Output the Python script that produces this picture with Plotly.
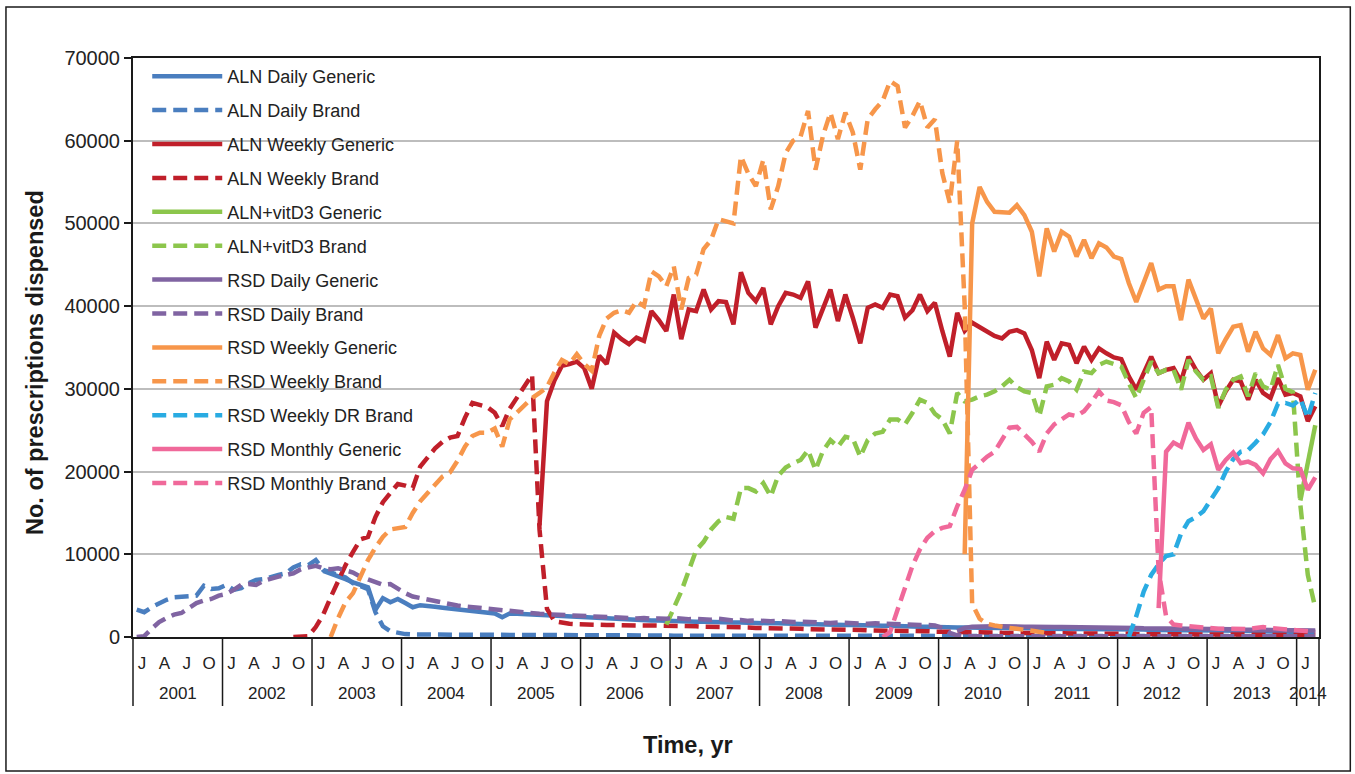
import plotly.graph_objects as go

# ---------------- data (monthly, Jan 2001 .. Mar 2014) ----------------
n_months = 159
years = ["2001", "2002", "2003", "2004", "2005", "2006", "2007",
         "2008", "2009", "2010", "2011", "2012", "2013", "2014"]
quarter_labels = ["J", "A", "J", "O"]
x_title = "Time, yr"
y_title = "No. of prescriptions dispensed"

aln_daily_generic_start = 25
aln_daily_generic = [
    8000, 7700, 7400, 7000, 6600, 6300, 6000, 3300, 4700, 4200, 4600, 4100,
    3600, 3850, 3700, 3650, 3550, 3450, 3400, 3300, 3200, 3100, 3000, 2850,
    2400, 2850, 2800, 2750, 2700, 2650, 2600, 2550, 2500, 2450, 2400, 2350,
    2300, 2250, 2200, 2200, 2150, 2100, 2100, 2050, 2000, 2000, 1950, 1950,
    1900, 1900, 1850, 1850, 1800, 1800, 1800, 1750, 1750, 1700, 1700, 1700,
    1650, 1650, 1600, 1600, 1600, 1550, 1550, 1500, 1500, 1500, 1450, 1450,
    1400, 1400, 1400, 1350, 1350, 1300, 1300, 1300, 1250, 1250, 1200, 1200,
    1200, 1150, 1150, 1150, 1100, 1100, 1100, 1100, 1050, 1050, 1050, 1050,
    1000, 1000, 1000, 1000, 950, 950, 950, 950, 950, 900, 900, 900,
    900, 900, 900, 850, 850, 850, 850, 850, 800, 800, 800, 800,
    800, 750, 750, 750, 750, 700, 700, 700, 700, 700, 650, 650,
    600, 600]

aln_daily_brand_start = 0
aln_daily_brand = [
    3300, 3000, 3600, 4100, 4500, 4800, 4900, 5000, 5000, 6200, 5800, 5900,
    6300, 5700, 5900, 6500, 6900, 7000, 7300, 7500, 7700, 8400, 8800, 8700,
    9300, 8100, 7800, 7500, 7200, 6500, 6200, 5800, 3000, 1300, 700, 500,
    350, 300, 300, 250, 250, 250, 250, 250, 200, 200, 200, 200,
    200, 200, 200, 200, 200, 200, 200, 200, 200, 200, 200, 200,
    180, 180, 180, 180, 180, 180, 180, 180, 180, 180, 180, 180,
    160, 160, 160, 160, 160, 160, 160, 160, 160, 160, 160, 160,
    150, 150, 150, 150, 150, 150, 150, 150, 150, 150, 150, 150,
    150, 150, 150, 150, 150, 150, 150, 150, 150, 150, 150, 150,
    130, 130, 130, 130, 130, 130, 130, 130, 130, 130, 130, 130,
    120, 120, 120, 120, 120, 120, 120, 120, 120, 120, 120, 120,
    110, 110, 110, 110, 110, 110, 110, 110, 110, 110, 110, 110,
    100, 100, 100, 100, 100, 100, 100, 100, 100, 100, 100, 100,
    100, 100, 100]

aln_weekly_generic_start = 54
aln_weekly_generic = [
    13500, 28500, 31000, 32800, 33000, 33300,
    32500, 30000, 34000, 33000, 36800, 36000, 35400, 36200, 35800, 39400, 38300, 37000,
    41400, 36000, 39600, 39400, 42000, 39600, 40600, 40500, 37800, 44100, 41600, 40600,
    42200, 37800, 40000, 41600, 41400, 41000, 43000, 37400, 39700, 42000, 38200, 41400,
    38600, 35500, 39800, 40200, 39800, 41400, 41200, 38600, 39500, 41400, 39400, 40400,
    37000, 33900, 39200, 37000, 38000, 37500, 36900, 36400, 36100, 36900, 37100, 36700,
    34700, 31300, 35700, 33500, 35500, 35300, 33100, 35100, 33500, 34900, 34300, 33800,
    33600, 31500, 29900, 31900, 33900, 31900, 32300, 32500, 30900, 33900, 32300, 31100,
    31900, 27900, 29700, 31100, 30900, 28700, 31100, 29500, 28900, 31300, 29300, 29500,
    29100, 26100, 27900]

aln_weekly_brand_start = 21
aln_weekly_brand = [
    0, 0, 100,
    1200, 2700, 4800, 6800, 8700, 10300, 11800, 12100, 14500, 16300, 17400, 18500,
    18300, 18000, 20600, 21800, 22800, 23600, 24100, 24300, 26500, 28300, 28100, 27800,
    27100, 25500, 27600, 29000, 30400, 31700, 13000, 3400, 1900, 1700, 1600, 1550,
    1500, 1500, 1450, 1450, 1450, 1400, 1400, 1400, 1400, 1400, 1350, 1350,
    1350, 1300, 1300, 1300, 1250, 1250, 1200, 1200, 1200, 1150, 1150, 1100,
    1100, 1050, 1050, 1000, 1000, 1000, 950, 950, 900, 900, 900, 850,
    850, 850, 800, 800, 800, 750, 750, 750, 700, 700, 700, 650,
    650, 650, 600, 600, 600, 550, 550, 550, 500, 500, 500, 500,
    450, 450, 450, 450, 450, 400, 400, 400, 400, 400, 400, 380,
    380, 380, 350, 350, 350, 350, 350, 330, 330, 330, 330, 300,
    300, 300, 300, 300, 300, 280, 280, 280, 280, 270, 270, 260,
    260, 250, 250]

alnd3_generic_start = 156
alnd3_generic = [16500, 21000, 25600]

alnd3_brand_start = 71
alnd3_brand = [
    1500, 3500, 5500, 8000, 10500, 11500, 13000, 14000, 14500, 14300, 18000, 18000, 17600,
    18600, 17000, 19500, 20500, 21000, 21400, 22600, 20200, 22500, 23800, 23000, 24200,
    24000, 21800, 23800, 24600, 24800, 26300, 26300, 25700, 27100, 28700, 28300, 27000,
    26300, 24600, 29500, 28500, 28700, 29100, 29300, 29700, 30300, 31100, 30200, 29700,
    29500, 26700, 30300, 30500, 31300, 30900, 29900, 32100, 31900, 32900, 33300, 33000,
    32700, 30700, 28900, 31100, 33300, 31900, 32300, 32300, 29900, 33500, 32100, 31100,
    31500, 27700, 29900, 31100, 31500, 29100, 31900, 30300, 29900, 32900, 30000, 29600,
    16000, 7500, 3500]

rsd_daily_generic_start = 110
rsd_daily_generic = [
    700, 1100, 1250, 1300, 1300, 1300, 1300, 1250, 1250, 1250, 1250, 1200,
    1200, 1200, 1200, 1200, 1150, 1150, 1150, 1150, 1100, 1100, 1100, 1100,
    1100, 1050, 1050, 1050, 1050, 1000, 1000, 1000, 1000, 950, 950, 950,
    950, 950, 900, 900, 900, 900, 900, 850, 850, 850, 850, 800,
    800]

rsd_daily_brand_start = 0
rsd_daily_brand = [
    0, 100, 1000, 1800, 2300, 2700, 2900, 3500, 4100, 4400, 4600, 5000,
    5200, 5700, 6300, 6400, 6300, 6800, 7100, 7300, 7500, 7700, 8200, 8400,
    8600, 8300, 8200, 8300, 8000, 7800, 7300, 7000, 6600, 6300, 6400, 5800,
    5300, 4900, 4700, 4500, 4300, 4100, 4000, 3800, 3700, 3600, 3500, 3400,
    3300, 3200, 3100, 3000, 2900, 2850, 2800, 2750, 2700, 2650, 2600, 2550,
    2500, 2450, 2400, 2400, 2350, 2300, 2300, 2250, 2300, 2200, 2250, 2200,
    2300, 2200, 2150, 2200, 2100, 2100, 2200, 2050, 2000, 2050, 1950, 2000,
    1900, 1900, 1950, 1850, 1800, 1850, 1800, 1750, 1750, 1700, 1750, 1700,
    1650, 1650, 1600, 1650, 1600, 1550, 1550, 1500, 1500, 1450, 1450, 1400,
    1100, 500, 200, 100, 100, 100, 100, 100, 100, 100, 100, 100,
    100, 100, 100, 100, 100, 100, 100, 100, 100, 100, 100, 100,
    100, 100, 100, 100, 100, 100, 100, 100, 100, 100, 100, 100,
    100, 100, 100, 100, 100, 100, 100, 100, 100, 100, 100, 100,
    100, 100, 100]

rsd_weekly_generic_start = 111
rsd_weekly_generic = [
    10000, 50000, 54400, 52600, 51400, 51300, 51300, 52200, 51000,
    49000, 43600, 49400, 46600, 49000, 48400, 46000, 48000, 45800, 47600, 47100,
    46000, 45700, 42800, 40500, 43000, 45200, 42000, 42400, 42400, 38300,
    43200, 40700, 38500, 39700, 34300, 36000, 37500, 37700, 34500, 36900,
    34900, 34100, 36500, 33700, 34300, 34100, 29900, 32300]

rsd_weekly_brand_start = 26
rsd_weekly_brand = [
    0, 2300, 4200, 5300, 7300, 9300, 10800, 12100, 13000, 13200,
    13300, 15000, 16400, 17400, 18500, 19400, 19900, 21300, 23000, 24300, 24700, 24700,
    25200, 23000, 26300, 27200, 28000, 28900, 29500, 30200, 32000, 33500, 33000, 34200,
    33000, 32200, 36400, 38500, 39200, 39500, 39200, 40600, 40000, 44200, 43600, 42400,
    44800, 39600, 43400, 43800, 46900, 48000, 50500, 50300, 50000, 58100, 56000, 54500,
    57700, 51700, 54500, 58500, 60000, 60500, 63600, 56500, 60600, 63400, 60200, 63400,
    61000, 56500, 62600, 63800, 64800, 67200, 66600, 61600, 63000, 64800, 61600, 62600,
    56100, 52500, 60000, 40000, 4000, 2200, 1600, 1400, 1200, 1100, 1000, 900,
    800, 700, 500]

rsd_weekly_dr_brand_start = 133
rsd_weekly_dr_brand = [
    0, 2500, 5500, 7500, 8800, 9800, 10000, 12500, 14000, 14500, 15200, 16500,
    18000, 20000, 21500, 22400, 22600, 23500, 24500, 26000, 28200, 28300, 28000, 28800,
    26500, 29500]

rsd_monthly_generic_start = 137
rsd_monthly_generic = [
    3500, 22400, 23500, 23000, 25900, 24000, 22600, 23300, 20200, 21400, 22300,
    21000, 21200, 20800, 19800, 21500, 22500, 21000, 20400, 20300, 17800, 19300]

rsd_monthly_brand_start = 100
rsd_monthly_brand = [
    0, 600, 3300, 6000, 8600, 10600, 12000, 12800, 13200, 13400, 15800, 17800,
    20200, 21000, 21800, 22400, 23800, 25300, 25400, 24500, 23600, 22400, 24600, 25700,
    26300, 26900, 26700, 27300, 28400, 29700, 28600, 28400, 28000, 26000, 24600, 27100,
    27800, 8000, 2500, 1500, 1400, 1300, 1200, 1100, 1100, 1000, 1000, 1000,
    950, 950, 1100, 1200, 1100, 1000, 1000, 900, 800, 700, 600]

series_names = [
    "ALN Daily Generic", "ALN Daily Brand", "ALN Weekly Generic", "ALN Weekly Brand",
    "ALN+vitD3 Generic", "ALN+vitD3 Brand", "RSD Daily Generic", "RSD Daily Brand",
    "RSD Weekly Generic", "RSD Weekly Brand", "RSD Weekly DR Brand",
    "RSD Monthly Generic", "RSD Monthly Brand"]

# ---------------- styling ----------------
BLUE, RED, GREEN, PURPLE = "#4A7EBF", "#C01F2A", "#8CC64C", "#8064A2"
ORANGE, CYAN, PINK = "#F7964A", "#29ABE2", "#F0699A"
DASH = "14px,7px"

styles = [
    (BLUE, "solid"), (BLUE, DASH), (RED, "solid"), (RED, DASH),
    (GREEN, "solid"), (GREEN, DASH), (PURPLE, "solid"), (PURPLE, DASH),
    (ORANGE, "solid"), (ORANGE, DASH), (CYAN, DASH), (PINK, "solid"), (PINK, DASH)]

series_data = [
    (aln_daily_generic_start, aln_daily_generic),
    (aln_daily_brand_start, aln_daily_brand),
    (aln_weekly_generic_start, aln_weekly_generic),
    (aln_weekly_brand_start, aln_weekly_brand),
    (alnd3_generic_start, alnd3_generic),
    (alnd3_brand_start, alnd3_brand),
    (rsd_daily_generic_start, rsd_daily_generic),
    (rsd_daily_brand_start, rsd_daily_brand),
    (rsd_weekly_generic_start, rsd_weekly_generic),
    (rsd_weekly_brand_start, rsd_weekly_brand),
    (rsd_weekly_dr_brand_start, rsd_weekly_dr_brand),
    (rsd_monthly_generic_start, rsd_monthly_generic),
    (rsd_monthly_brand_start, rsd_monthly_brand)]


def full_series(start, vals):
    out = [None] * start + list(vals)
    out = out[:n_months]
    return out + [None] * (n_months - len(out))


months = list(range(n_months))
FONT = "Liberation Sans, Arial, Helvetica, sans-serif"

fig = go.Figure()
for name, (start, vals), (color, dash) in zip(series_names, series_data, styles):
    fig.add_trace(go.Scatter(
        x=months, y=full_series(start, vals), mode="lines", name=name,
        legendgroup=name, line=dict(color=color, width=4.5, dash=dash),
        connectgaps=False, hoverinfo="skip"))

# month tick labels (Jan/Apr/Jul/Oct) and year group labels
tickvals = [m + 0.7 for m in range(0, n_months, 3)]
ticktext = [quarter_labels[(m // 3) % 4] for m in range(0, n_months, 3)]

PLOT_L, PLOT_R, PLOT_T, PLOT_B = 133, 1318.7, 58, 637
W, H = 1355, 774
pw, ph = PLOT_R - PLOT_L, PLOT_B - PLOT_T


def px_to_py(y):
    return (PLOT_B - y) / ph


def px_to_px(x):
    return (x - PLOT_L) / pw


shapes = []
# year dividers below the axis
bounds = [12 * k for k in range(len(years))] + [n_months]
for b in bounds:
    xp = b / n_months
    shapes.append(dict(type="line", xref="paper", yref="paper", x0=xp, x1=xp,
                       y0=0, y1=px_to_py(706), line=dict(color="#1a1a1a", width=1.5)))
# outer frame
shapes.append(dict(type="rect", xref="paper", yref="paper",
                   x0=px_to_px(6), x1=px_to_px(1350), y0=px_to_py(771), y1=px_to_py(7),
                   line=dict(color="#1a1a1a", width=1.5), layer="below"))

annotations = []
for k, yr in enumerate(years):
    a, b = 12 * k, min(12 * (k + 1), n_months)
    annotations.append(dict(x=(a + b) / 2 / n_months, y=px_to_py(693), xref="paper", yref="paper",
                            text=yr, showarrow=False, xanchor="center", yanchor="middle",
                            font=dict(family=FONT, size=17, color="#222")))
# axis titles
annotations.append(dict(x=px_to_px(688), y=px_to_py(745), xref="paper", yref="paper",
                        text="<b>" + x_title + "</b>", showarrow=False,
                        xanchor="center", yanchor="middle",
                        font=dict(family=FONT, size=23.5, color="#1a1a1a")))
annotations.append(dict(x=px_to_px(35), y=px_to_py(362), xref="paper", yref="paper",
                        text="<b>" + y_title + "</b>", showarrow=False, textangle=-90,
                        xanchor="center", yanchor="middle",
                        font=dict(family=FONT, size=23.5, color="#1a1a1a")))

fig.update_layout(
    width=W, height=H,
    margin=dict(l=PLOT_L, r=W - PLOT_R, t=PLOT_T, b=H - PLOT_B, autoexpand=False),
    paper_bgcolor="white", plot_bgcolor="white",
    font=dict(family=FONT, color="#222"),
    showlegend=True,
    legend=dict(x=0.012, y=1.0, xanchor="left", yanchor="top",
                bgcolor="rgba(0,0,0,0)", borderwidth=0,
                font=dict(family=FONT, size=18, color="#222"),
                itemwidth=70, tracegroupgap=7.5, traceorder="grouped"),
    xaxis=dict(range=[-0.5, n_months - 0.5], showgrid=False, zeroline=False,
               showline=True, linecolor="#1a1a1a", linewidth=2, mirror=True,
               tickmode="array", tickvals=tickvals, ticktext=ticktext, ticks="",
               ticklabelstandoff=10,
               tickfont=dict(family=FONT, size=17, color="#222")),
    yaxis=dict(range=[0, 70000], dtick=10000, tickformat="d",
               showgrid=True, gridcolor="#BDBDBD", gridwidth=1.5, zeroline=False,
               showline=True, linecolor="#1a1a1a", linewidth=2, mirror=True,
               ticks="outside", ticklen=7, tickcolor="#1a1a1a", tickwidth=1.5,
               tickfont=dict(family=FONT, size=20, color="#222")),
    shapes=shapes, annotations=annotations,
)

fig.write_html("out.html", config={"displayModeBar": False},
               post_script="document.body.style.margin='0px';")
